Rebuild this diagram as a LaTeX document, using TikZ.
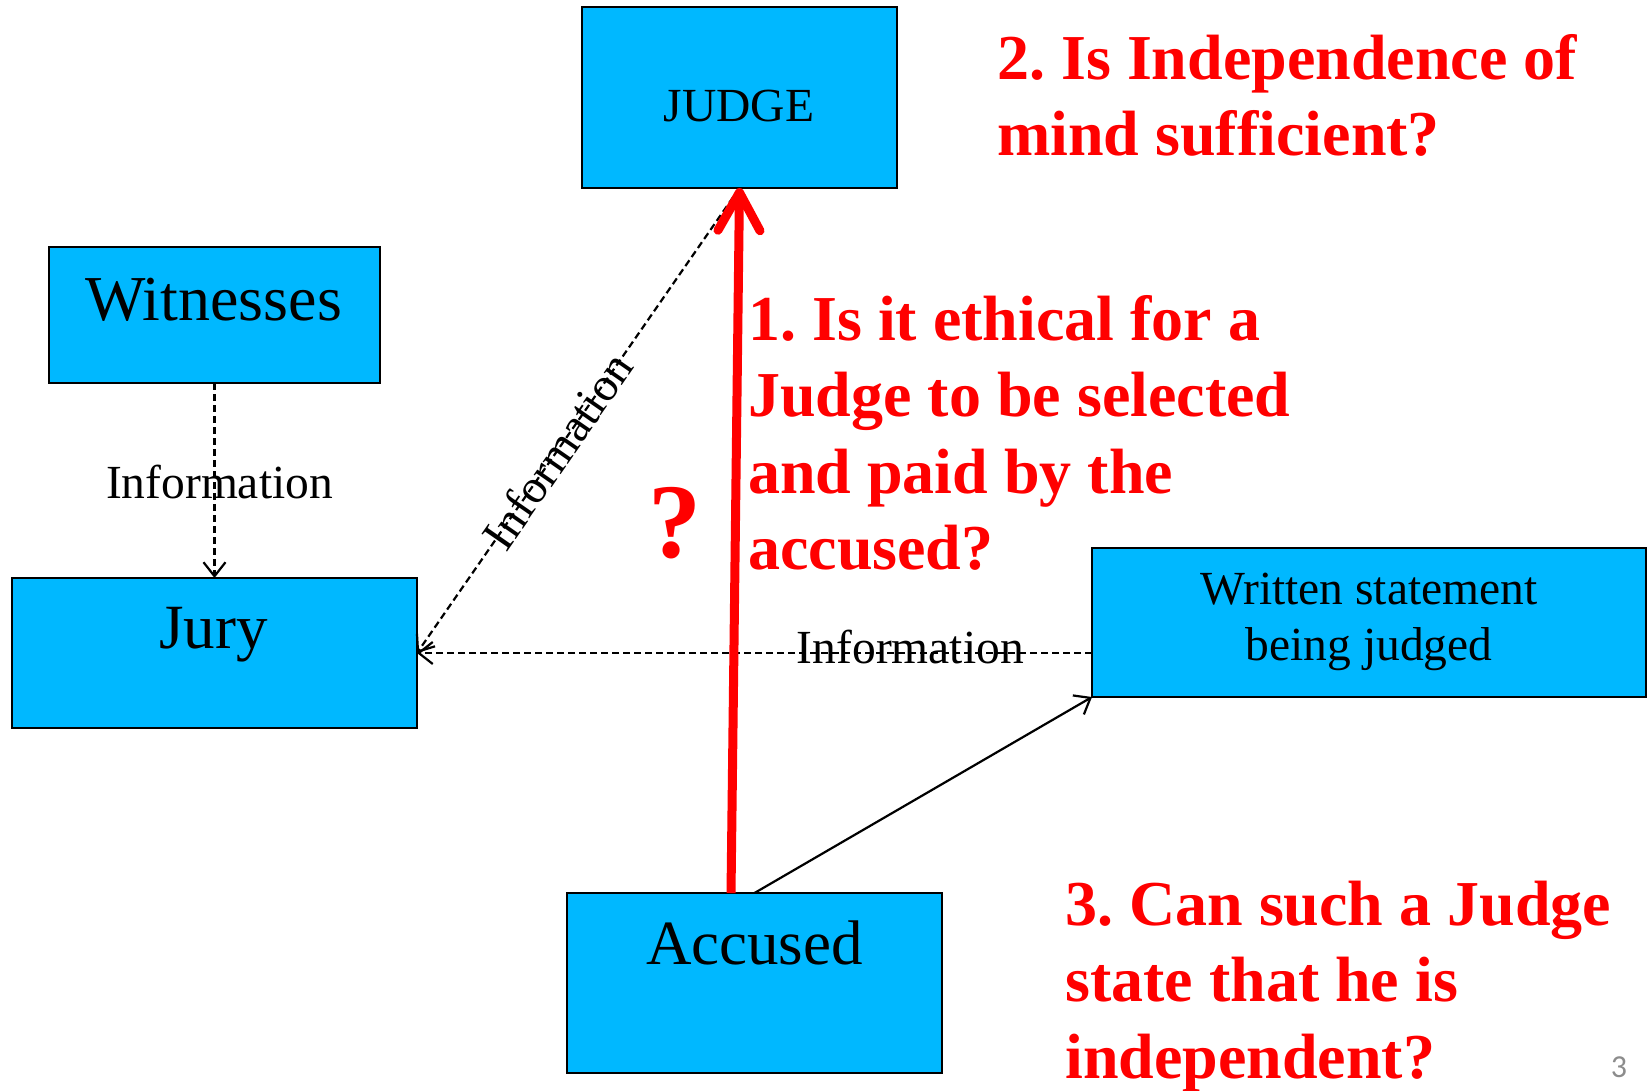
\documentclass[tikz,border=0pt]{standalone}
\usepackage{fontspec}
\setmainfont{Liberation Serif}
\newfontfamily\pagefont{Carlito}
\usetikzlibrary{arrows.meta}
\frenchspacing
\definecolor{boxblue}{RGB}{0,184,255}
\definecolor{pagegray}{RGB}{140,140,140}
\tikzset{
  box/.style={draw=black, line width=2.5pt, fill=boxblue, rectangle, inner sep=0pt, outer sep=0pt},
  boxtext/.style={anchor=base, inner sep=0pt, text=black},
  info/.style={draw=black, line width=2.2pt, dash pattern=on 7pt off 4pt, -{Straight Barb[length=14pt,width=22pt]}},
  solidarrow/.style={draw=black, line width=2.2pt, -{Straight Barb[length=14pt,width=22pt]}},
  infolabel/.style={font=\fontsize{47.5}{57}\selectfont, inner sep=0pt, text=black},
  question/.style={anchor=base west, inner sep=0pt, text=red, font=\fontsize{64}{76.6}\selectfont\bfseries},
}
\begin{document}
\begin{tikzpicture}[x=1pt,y=-1pt]
\useasboundingbox (0,0) rectangle (1651,1090);
% boxes
\node[box, minimum width=315pt, minimum height=181pt] (judge) at (739.5,97.5) {};
\node[box, minimum width=331pt, minimum height=136pt] (wit) at (214.5,315) {};
\node[box, minimum width=405pt, minimum height=150pt] (jury) at (214.5,653) {};
\node[box, minimum width=554pt, minimum height=149pt] (ws) at (1369,622.5) {};
\node[box, minimum width=375pt, minimum height=180pt] (acc) at (754.5,983) {};
% box texts
\node[boxtext, font=\fontsize{47.5}{57}\selectfont] (judgeT) at (739,121) {JUDGE};
\node[boxtext, font=\fontsize{64}{76}\selectfont] (witT) at (213.5,320) {Witnesses};
\node[boxtext, font=\fontsize{63}{75}\selectfont] (juryT) at (213.5,648) {Jury};
\node[boxtext, font=\fontsize{63}{75}\selectfont] (accT) at (754.5,964) {Accused};
\node[boxtext, font=\fontsize{47.5}{56}\selectfont] (wsT) at (1369,604) {\begin{tabular}[t]{@{}c@{}}Written statement\\being judged\end{tabular}};
% connectors
\draw[info] (wit.south) -- node[infolabel, anchor=base, pos=0.59, xshift=5pt] (l1) {Information} (jury.north);
\draw[info] (judge.south) -- node[infolabel, sloped, pos=0.565] (l2) {Information} (jury.east);
\draw[info] (ws.west |- jury.east) -- node[infolabel, anchor=base, pos=0.269, yshift=-10pt] (l3) {Information} (jury.east);
\draw[solidarrow] (acc.north) -- (ws.south west);
\draw[red, line width=9pt, -{Straight Barb[length=38pt,width=42pt,round]}] ([xshift=-23.5pt]acc.north) -- (judge.south);
% question mark
\node[anchor=base, inner sep=0pt, text=red, font=\fontsize{106}{120}\selectfont\bfseries] (qm) at (675,557) {?};
% questions
\node[question] (q1) at (748,340) {\begin{tabular}[t]{@{}l@{}}1. Is it ethical for a\\Judge to be selected\\and paid by the\\accused?\end{tabular}};
\node[question] (q2) at (997,79) {\begin{tabular}[t]{@{}l@{}}2. Is Independence of\\mind sufficient?\end{tabular}};
\node[question] (q3) at (1065,925) {\begin{tabular}[t]{@{}l@{}}3. Can such a Judge\\state that he is\\independent?\end{tabular}};
% page number
\node[anchor=base, inner sep=0pt, text=pagegray, font=\pagefont\fontsize{32}{38}\selectfont] (pg) at (1619,1077) {3};
\end{tikzpicture}
\end{document}
